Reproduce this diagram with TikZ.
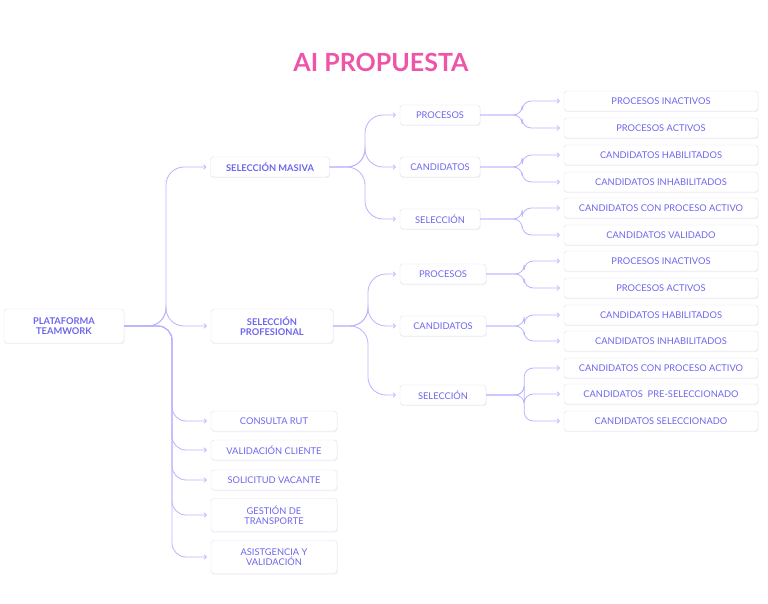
\documentclass[tikz,border=0pt]{standalone}
\usepackage{fontspec}
\setmainfont{Lato}
\usetikzlibrary{arrows.meta,shadows}
\definecolor{ink}{HTML}{6D66EE}
\definecolor{wire}{HTML}{B8B3FF}
\definecolor{rim}{HTML}{E3DDF0}
\definecolor{title}{HTML}{EE55A8}
\tikzset{
  box/.style={draw=rim,fill=white,rounded corners=3pt,text=ink,font=\fontsize{9.3}{10.5}\selectfont,
    align=center,minimum height=20pt,inner sep=2pt,
    drop shadow={shadow xshift=0.6pt,shadow yshift=-1pt,fill=rim!70,opacity=.6}},
  bold/.style={font=\bfseries\fontsize{9.3}{10.5}\selectfont},
  conn/.style={draw=wire,line width=0.8pt,rounded corners=18pt,-{To[length=3pt,width=5pt]},shorten >=4pt}
}
\begin{document}
\begin{tikzpicture}[x=1pt,y=-1pt]
  \useasboundingbox (0,0) rectangle (768,604);
  \node[text=title,font=\bfseries\fontsize{25}{27}\selectfont] (ttl) at (381,62) {AI PROPUESTA};
  % root
  \node[box,bold,minimum width=120pt,minimum height=34pt] (root) at (64,326) {PLATAFORMA\\TEAMWORK};
  % first level
  \node[box,bold,minimum width=119pt] (mas) at (270,167) {SELECCIÓN MASIVA};
  \node[box,bold,minimum width=122pt,minimum height=34pt] (pro) at (272,326) {SELECCIÓN\\PROFESIONAL};
  \node[box,minimum width=126pt] (rut) at (274,421) {CONSULTA RUT};
  \node[box,minimum width=126pt] (val) at (274,450) {VALIDACIÓN CLIENTE};
  \node[box,minimum width=126pt] (sol) at (274,480) {SOLICITUD VACANTE};
  \node[box,minimum width=126pt,minimum height=33pt] (tra) at (274,515) {GESTIÓN DE\\TRANSPORTE};
  \node[box,minimum width=126pt,minimum height=33pt] (asi) at (274,557) {ASISTGENCIA Y\\VALIDACIÓN};
  % second level
  \node[box,minimum width=80pt] (mproc) at (440,115) {PROCESOS};
  \node[box,minimum width=80pt] (mcand) at (440,167) {CANDIDATOS};
  \node[box,minimum width=80pt] (msel) at (440,219) {SELECCIÓN};
  \node[box,minimum width=86pt] (pproc) at (443,274) {PROCESOS};
  \node[box,minimum width=86pt] (pcand) at (443,326) {CANDIDATOS};
  \node[box,minimum width=86pt] (psel) at (443,395) {SELECCIÓN};
  % third level
  \foreach \n/\y/\t in {a/101/PROCESOS INACTIVOS,b/128/PROCESOS ACTIVOS,
      c/155/CANDIDATOS HABILITADOS,d/182/CANDIDATOS INHABILITADOS,
      e/208/CANDIDATOS CON PROCESO ACTIVO,f/235/CANDIDATOS VALIDADO,
      g/261/PROCESOS INACTIVOS,h/288/PROCESOS ACTIVOS,
      i/315/CANDIDATOS HABILITADOS,j/341/CANDIDATOS INHABILITADOS,
      k/368/CANDIDATOS CON PROCESO ACTIVO,l/394/CANDIDATOS\ \ PRE-SELECCIONADO,
      m/421/CANDIDATOS SELECCIONADO}
    \node[box,minimum width=194pt] (\n) at (661,\y) {\t};
  % connectors
  \foreach \c in {mas,pro}
    \draw[conn] (root.east) -- (166,326) |- (\c.west);
  \foreach \c in {rut,val,sol,tra,asi}
    \draw[conn,rounded corners=14pt] (root.east) -- (172,326) |- (\c.west);
  \foreach \c in {mproc,mcand,msel}
    \draw[conn] (mas.east) -- (365,167) |- (\c.west);
  \foreach \c in {pproc,pcand,psel}
    \draw[conn] (pro.east) -- (368,326) |- (\c.west);
  \foreach \s/\c in {mproc/a,mproc/b,mcand/c,mcand/d,msel/e,msel/f}
    \draw[conn,rounded corners=9pt] (\s.east) -- ++(42,0) |- (\c.west);
  \foreach \s/\c in {pproc/g,pproc/h,pcand/i,pcand/j,psel/k,psel/l,psel/m}
    \draw[conn,rounded corners=9pt] (\s.east) -- ++(38,0) |- (\c.west);
\end{tikzpicture}
\end{document}
